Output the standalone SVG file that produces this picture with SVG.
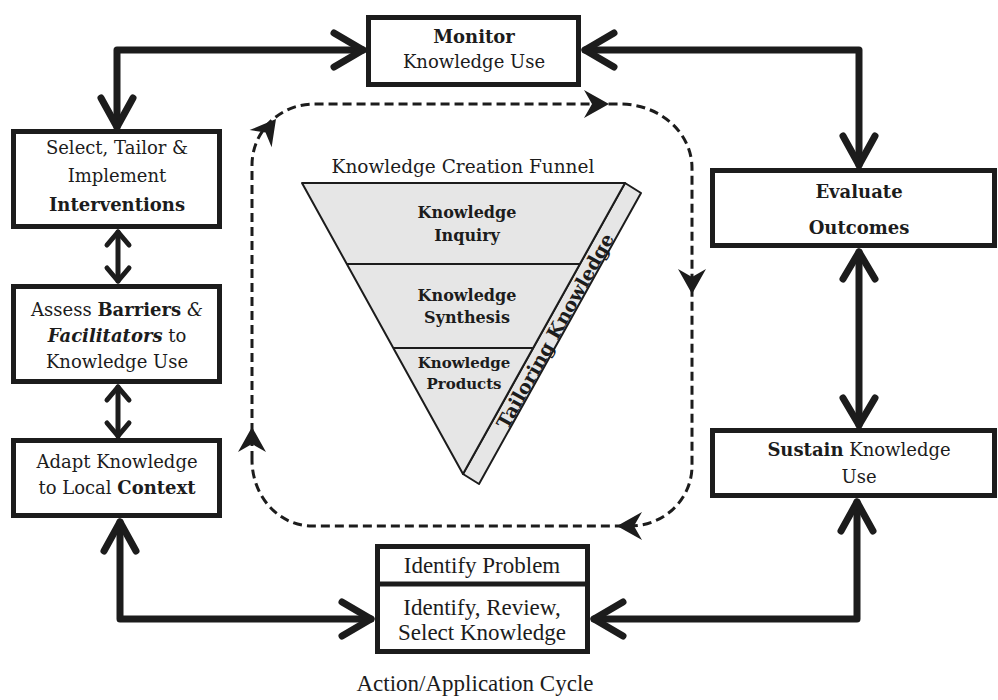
<svg xmlns="http://www.w3.org/2000/svg" width="998" height="700" viewBox="0 0 998 700">
<style>
  .box { fill: #fff; stroke: #1c1c1c; stroke-width: 5; }
  .t { font-family: "DejaVu Serif", serif; font-size: 18px; fill: #1c1c1c; text-anchor: middle; }
  .tb { font-weight: bold; }
  .ti { font-style: italic; }
  .tn { font-family: "Liberation Serif", serif; font-size: 23px; fill: #1c1c1c; text-anchor: middle; }
  .fun { font-family: "DejaVu Serif", serif; font-size: 16px; font-weight: bold; fill: #1c1c1c; text-anchor: middle; }
  .conn { fill: none; stroke: #1c1c1c; stroke-width: 7; stroke-linecap: round; stroke-linejoin: round; }
  .conns { fill: none; stroke: #1c1c1c; stroke-width: 5; stroke-linecap: round; stroke-linejoin: round; }
  .dash { fill: none; stroke: #1c1c1c; stroke-width: 3; stroke-dasharray: 9 5; }
  .dhead { fill: #1c1c1c; }
  .funnel { fill: #e6e6e6; stroke: #1c1c1c; stroke-width: 2; stroke-linejoin: round; }
  .div { stroke: #1c1c1c; stroke-width: 2; }
</style>
<defs>
  <path id="dh" d="M0,0 L-25,-14 L-17,0 L-25,14 Z"/>
</defs>
<rect width="998" height="700" fill="#fff"/>

<g id="connectors">
  <!-- top-left: Monitor <-> Select -->
  <path class="conn" d="M363,50 H117 V127"/>
  <path class="conn" d="M334,33 L363,50 L334,67"/>
  <path class="conn" d="M101,98 L117,127 L133,98"/>
  <!-- top-right: Monitor <-> Evaluate -->
  <path class="conn" d="M585,50 H859 V165"/>
  <path class="conn" d="M614,33 L585,50 L614,67"/>
  <path class="conn" d="M843,136 L859,165 L875,136"/>
  <!-- Evaluate <-> Sustain -->
  <path class="conn" d="M859,252 V425"/>
  <path class="conn" d="M843,279 L859,252 L875,279"/>
  <path class="conn" d="M843,398 L859,425 L875,398"/>
  <!-- Sustain <-> Identify -->
  <path class="conn" d="M594,619 H857 V502"/>
  <path class="conn" d="M623,602 L594,619 L623,636"/>
  <path class="conn" d="M841,531 L857,502 L873,531"/>
  <!-- Adapt <-> Identify -->
  <path class="conn" d="M120,522 V619 H371"/>
  <path class="conn" d="M104,551 L120,522 L136,551"/>
  <path class="conn" d="M342,602 L371,619 L342,636"/>
  <!-- small left double arrows -->
  <path class="conns" d="M118,232 V281"/>
  <path class="conns" d="M107,245 L118,232 L129,245"/>
  <path class="conns" d="M107,268 L118,281 L129,268"/>
  <path class="conns" d="M118,387 V436"/>
  <path class="conns" d="M107,400 L118,387 L129,400"/>
  <path class="conns" d="M107,423 L118,436 L129,423"/>
  <!-- dashed tailoring loop -->
  <path class="dash" d="M252,460 V165 A62 61 0 0 1 314,104 H620 A72 64 0 0 1 692,168 V466 A62 60 0 0 1 630,526 H312 A60 66 0 0 1 252,460 Z"/>
  <use href="#dh" class="dhead" transform="translate(609,104)"/>
  <use href="#dh" class="dhead" transform="translate(692,294) rotate(90)"/>
  <use href="#dh" class="dhead" transform="translate(617,526) rotate(180)"/>
  <use href="#dh" class="dhead" transform="translate(252,427) rotate(-90)"/>
  <use href="#dh" class="dhead" transform="translate(276,119) rotate(-52)"/>
</g>

<g id="monitor">
  <rect class="box" x="368.5" y="17.5" width="210" height="67"/>
  <text class="t tb" x="474" y="43">Monitor</text>
  <text class="t" x="474" y="68">Knowledge Use</text>
</g>

<g id="select">
  <rect class="box" x="13.5" y="131.5" width="206" height="95"/>
  <text class="t" x="117" y="154">Select, Tailor &amp;</text>
  <text class="t" x="117" y="182">Implement</text>
  <text class="t tb" x="117" y="211">Interventions</text>
</g>

<g id="assess">
  <rect class="box" x="13.5" y="286.5" width="206" height="95"/>
  <text class="t" x="117" y="316">Assess <tspan class="tb">Barriers</tspan> <tspan class="ti">&amp;</tspan></text>
  <text class="t" x="117" y="342"><tspan class="tb ti">Facilitators</tspan> to</text>
  <text class="t" x="117" y="368">Knowledge Use</text>
</g>

<g id="adapt">
  <rect class="box" x="13.5" y="440.5" width="206" height="75"/>
  <text class="t" x="117" y="468">Adapt Knowledge</text>
  <text class="t" x="117" y="494">to Local <tspan class="tb">Context</tspan></text>
</g>

<g id="evaluate">
  <rect class="box" x="712.5" y="170.5" width="282" height="75"/>
  <text class="t tb" x="859" y="198">Evaluate</text>
  <text class="t tb" x="859" y="234">Outcomes</text>
</g>

<g id="sustain">
  <rect class="box" x="712.5" y="430.5" width="282" height="65"/>
  <text class="t" x="859" y="456"><tspan class="tb">Sustain</tspan> Knowledge</text>
  <text class="t" x="859" y="483">Use</text>
</g>

<g id="identify">
  <rect class="box" x="377.5" y="546.5" width="210" height="105"/>
  <line x1="377.5" y1="584" x2="587.5" y2="584" stroke="#1c1c1c" stroke-width="5"/>
  <text class="tn" x="482" y="573">Identify Problem</text>
  <text class="tn" x="482" y="615">Identify, Review,</text>
  <text class="tn" x="482" y="640">Select Knowledge</text>
</g>

<g id="funnel">
  <text class="t" x="463" y="173" style="font-size:18.5px">Knowledge Creation Funnel</text>
  <polygon class="funnel" points="625,183 641,193 479,484 463,474"/>
  <polygon class="funnel" points="302,183 625,183 463,474"/>
  <line class="div" x1="347" y1="264" x2="580" y2="264"/>
  <line class="div" x1="393" y1="348" x2="533" y2="348"/>
  <text class="fun" x="467" y="218">Knowledge</text>
  <text class="fun" x="467" y="241">Inquiry</text>
  <text class="fun" x="467" y="301">Knowledge</text>
  <text class="fun" x="467" y="323">Synthesis</text>
  <text class="fun" x="464" y="368" style="font-size:15px">Knowledge</text>
  <text class="fun" x="464" y="389" style="font-size:15px">Products</text>
  <text class="fun" x="0" y="0" dominant-baseline="central" style="font-size:19px" transform="translate(555,331) rotate(-60.9)">Tailoring Knowledge</text>
</g>

<g id="caption">
  <text class="tn" x="475" y="691">Action/Application Cycle</text>
</g>
</svg>
